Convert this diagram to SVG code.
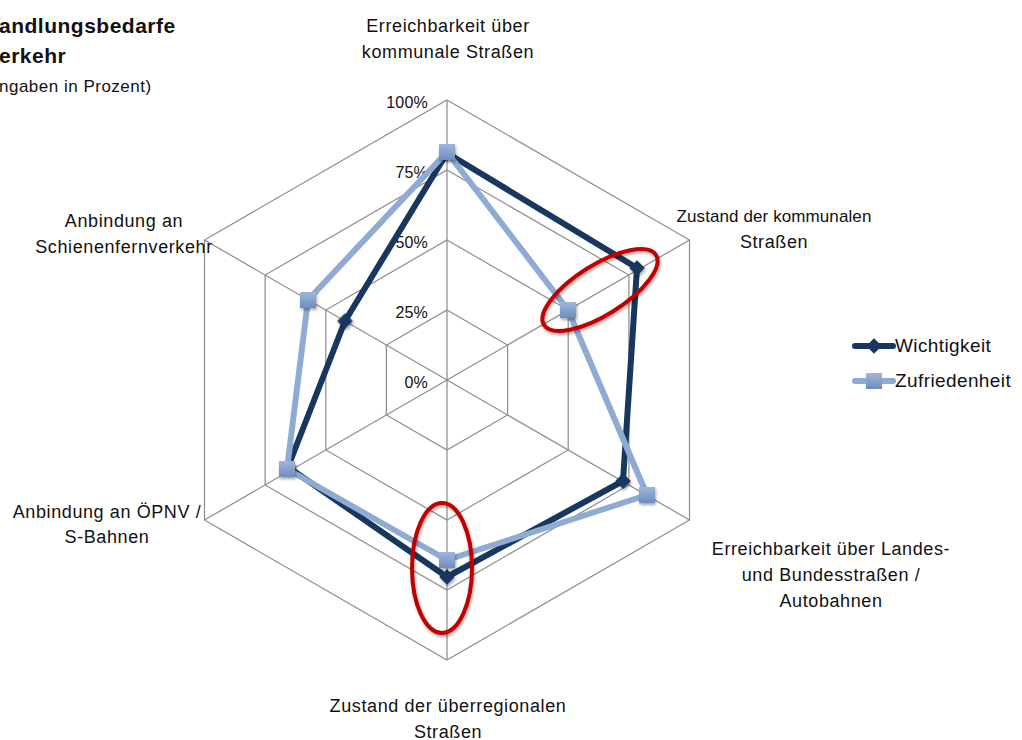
<svg xmlns="http://www.w3.org/2000/svg" width="1022" height="740" viewBox="0 0 1022 740">
<defs>
<style>
text{font-family:"Liberation Sans","Open Sans",sans-serif;fill:#111}
.lbl{font-size:18px;letter-spacing:0.6px;text-anchor:middle}
.ax{font-size:16px;letter-spacing:0.2px;text-anchor:end}
.grid{fill:none;stroke:#8c8c8c;stroke-width:1.2}
.w{fill:none;stroke:#17375e;stroke-width:6;stroke-linejoin:round}
.z{fill:none;stroke:#8faad3;stroke-width:6;stroke-linejoin:round}
.red{fill:none;stroke:#c00000;stroke-width:4}
.leg{font-size:19px;letter-spacing:0.4px}
</style>
<linearGradient id="sq" x1="0" y1="0" x2="0" y2="1">
<stop offset="0" stop-color="#9fb6dc"/><stop offset="1" stop-color="#6f8dbf"/>
</linearGradient>
<filter id="sh" x="-30%" y="-30%" width="160%" height="160%">
<feDropShadow dx="1" dy="2" stdDeviation="1.5" flood-color="#000" flood-opacity="0.35"/>
</filter>
<rect id="msq" x="-8" y="-8" width="16" height="16" fill="url(#sq)"/>
<rect id="mdi" x="-5.5" y="-5.5" width="11" height="11" fill="#17375e" transform="rotate(45)"/>
</defs>
<rect width="1022" height="740" fill="#fff"/>
<g id="title">
<text x="-1" y="33" style="font-size:21px;font-weight:bold;letter-spacing:0.5px">andlungsbedarfe</text>
<text x="-1" y="63" style="font-size:21px;font-weight:bold;letter-spacing:0.5px">erkehr</text>
<text x="-1" y="92" style="font-size:17px;letter-spacing:0.5px">ngaben in Prozent)</text>
</g>
<g id="grid">
<polygon class="grid" points="447,100 689.5,240 689.5,520 447,660 204.5,520 204.5,240"/>
<polygon class="grid" points="447,170 628.9,275 628.9,485 447,590 265.1,485 265.1,275"/>
<polygon class="grid" points="447,240 568.2,310 568.2,450 447,520 325.8,450 325.8,310"/>
<polygon class="grid" points="447,310 507.6,345 507.6,415 447,450 386.4,415 386.4,345"/>
<path class="grid" d="M447,380L447,100M447,380L689.5,240M447,380L689.5,520M447,380L447,660M447,380L204.5,520M447,380L204.5,240"/>
</g>
<g id="axis-labels">
<text class="ax" x="428" y="108">100%</text>
<text class="ax" x="428" y="178">75%</text>
<text class="ax" x="428" y="248">50%</text>
<text class="ax" x="428" y="318">25%</text>
<text class="ax" x="428" y="388">0%</text>
</g>
<g id="category-labels">
<text class="lbl" x="448" y="32">Erreichbarkeit über</text>
<text class="lbl" x="448" y="58">kommunale Straßen</text>
<text class="lbl" x="774" y="222" style="font-size:17px;letter-spacing:0.1px">Zustand der kommunalen</text>
<text class="lbl" x="774" y="248">Straßen</text>
<text class="lbl" x="831" y="555">Erreichbarkeit über Landes-</text>
<text class="lbl" x="831" y="581">und Bundesstraßen /</text>
<text class="lbl" x="831" y="607">Autobahnen</text>
<text class="lbl" x="448" y="712">Zustand der überregionalen</text>
<text class="lbl" x="448" y="738">Straßen</text>
<text class="lbl" x="107" y="518">Anbindung an ÖPNV /</text>
<text class="lbl" x="107" y="543">S-Bahnen</text>
<text class="lbl" x="124" y="227">Anbindung an</text>
<text class="lbl" x="124" y="253">Schienenfernverkehr</text>
</g>
<g id="series-wichtigkeit">
<polygon class="w" points="447,153 637,268 623,481 447,577 288,467 345,321"/>
<g filter="url(#sh)">
<use href="#mdi" x="447" y="153"/><use href="#mdi" x="637" y="268"/><use href="#mdi" x="623" y="481"/>
<use href="#mdi" x="447" y="577"/><use href="#mdi" x="288" y="467"/><use href="#mdi" x="345" y="321"/>
</g>
</g>
<g id="series-zufriedenheit">
<polygon class="z" points="447,152 568,310 647,495 447,560 287,469 308,300"/>
<g filter="url(#sh)">
<use href="#msq" x="447" y="152"/><use href="#msq" x="568" y="310"/><use href="#msq" x="647" y="495"/>
<use href="#msq" x="447" y="560"/><use href="#msq" x="287" y="469"/><use href="#msq" x="308" y="300"/>
</g>
</g>
<g id="highlights" filter="url(#sh)">
<ellipse class="red" cx="600" cy="290" rx="66" ry="25" transform="rotate(-32 600 290)"/>
<ellipse class="red" cx="442" cy="568" rx="30" ry="65"/>
</g>
<g id="legend">
<line x1="855" y1="346" x2="893" y2="346" stroke="#17375e" stroke-width="6" stroke-linecap="round"/>
<use href="#mdi" x="874" y="346"/>
<text class="leg" x="895" y="352">Wichtigkeit</text>
<line x1="855" y1="381" x2="893" y2="381" stroke="#8faad3" stroke-width="6" stroke-linecap="round"/>
<use href="#msq" x="874" y="381"/>
<text class="leg" x="895" y="387">Zufriedenheit</text>
</g>
</svg>
